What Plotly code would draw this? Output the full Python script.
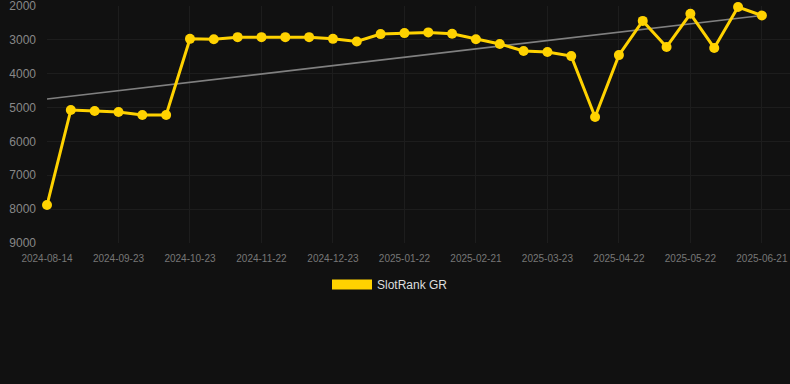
import numpy as np
import plotly.graph_objects as go

dates = ["2024-08-14", "2024-08-27", "2024-09-10", "2024-09-23", "2024-10-03", "2024-10-13",
         "2024-10-23", "2024-11-02", "2024-11-12", "2024-11-22", "2024-12-02", "2024-12-12",
         "2024-12-23", "2025-01-02", "2025-01-12", "2025-01-22", "2025-02-01", "2025-02-11",
         "2025-02-21", "2025-03-03", "2025-03-13", "2025-03-23", "2025-04-02", "2025-04-12",
         "2025-04-22", "2025-05-02", "2025-05-12", "2025-05-22", "2025-06-01", "2025-06-11",
         "2025-06-21"]
ranks = [7880, 5070, 5100, 5130, 5220, 5220,
         2970, 2980, 2920, 2920, 2920, 2920,
         2970, 3050, 2830, 2800, 2780, 2820,
         2980, 3120, 3330, 3360, 3480, 5280,
         3450, 2440, 3210, 2230, 3240, 2030,
         2280]
tick_labels = dates[::3]
series_name = "SlotRank GR"

idx = np.arange(len(ranks))
coef = np.polyfit(idx, ranks, 1)
trend = np.polyval(coef, idx)

gold = "#FFD200"
grid = "#1d1d1d"
fig = go.Figure()
fig.add_trace(go.Scatter(x=dates, y=trend, mode="lines", line=dict(color="#808080", width=1.6),
                         showlegend=False, hoverinfo="skip"))
fig.add_trace(go.Scatter(x=dates, y=ranks, mode="lines+markers", name=series_name,
                         line=dict(color=gold, width=3), marker=dict(size=10, color=gold),
                         showlegend=False, cliponaxis=False))
fig.add_trace(go.Scatter(x=[None], y=[None], mode="lines", name=series_name,
                         line=dict(color=gold, width=10), showlegend=True))

fig.update_layout(
    width=790, height=384,
    paper_bgcolor="#111111", plot_bgcolor="#111111",
    margin=dict(l=47, r=0, t=6, b=141),
    font=dict(family="Liberation Sans, Arial, sans-serif", color="#888888"),
    showlegend=True,
    legend=dict(orientation="h", xref="container", x=(395 - 5) / 790, xanchor="center",
                yref="container", y=1 - 270 / 384, yanchor="top",
                font=dict(size=12, color="#dddddd"), itemwidth=40),
    xaxis=dict(type="category", range=[0, 31.18], tickmode="array", tickvals=tick_labels,
               ticktext=tick_labels, showgrid=True, gridcolor=grid, zeroline=False,
               tickfont=dict(size=10, color="#777777"), showline=False, ticks="",
               ticklabelstandoff=8, automargin=False, ticklabeloverflow="allow"),
    yaxis=dict(range=[9000, 2000], tickvals=[2000, 3000, 4000, 5000, 6000, 7000, 8000, 9000],
               showgrid=True, gridcolor=grid, zeroline=False,
               tickfont=dict(size=12, color="#888888"), ticks="", ticklabelstandoff=10,
               automargin=False, ticklabeloverflow="allow"),
)
fig.write_html("out.html", config={"displayModeBar": False},
               post_script="document.body.style.margin='0';document.body.style.background='#111111';")
